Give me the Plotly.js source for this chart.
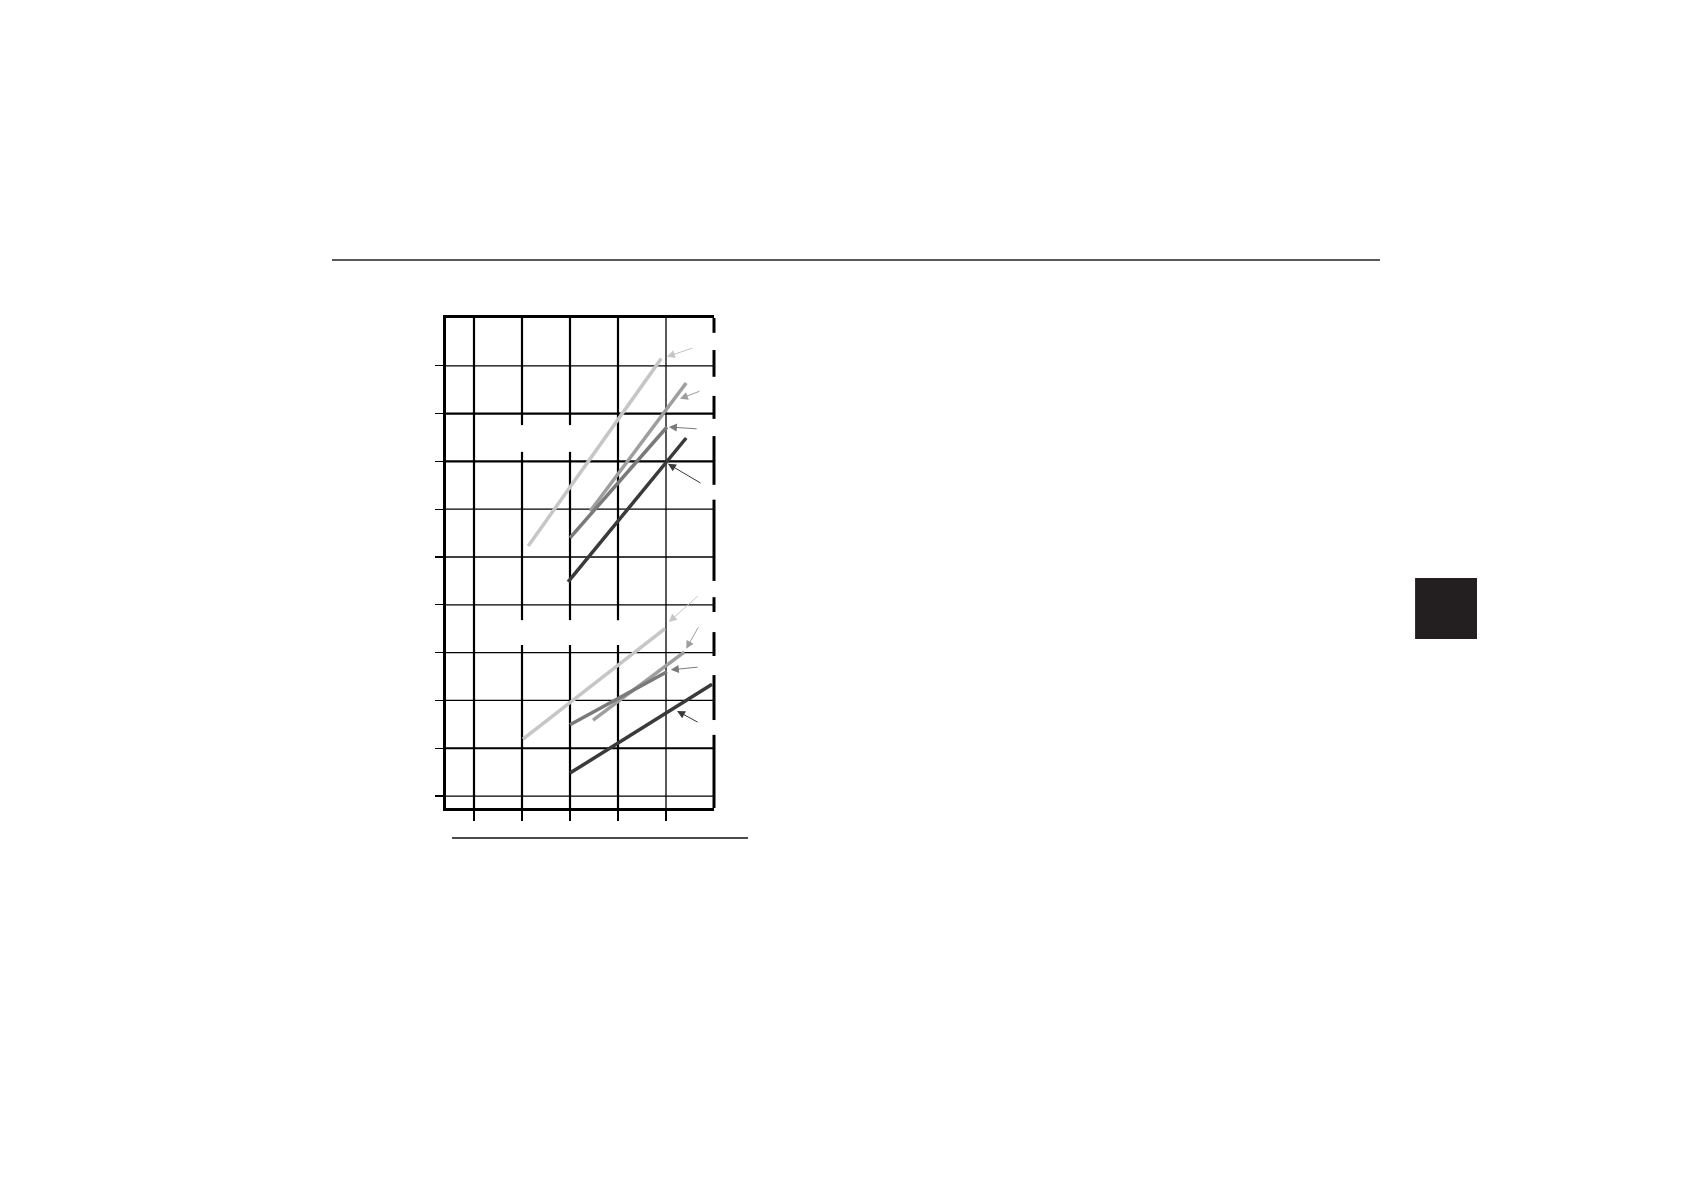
<!DOCTYPE html>
<html>
<head>
<meta charset="utf-8">
<script src="https://cdn.plot.ly/plotly-3.0.1.min.js"></script>
<style>
  html, body { margin: 0; padding: 0; background: #ffffff; }
  #chart { width: 1684px; height: 1190px; }
</style>
</head>
<body>
<div id="chart"></div>
<script>
// each line is drawn from its start point to its end point
const lineColors = ['#c6c6c6', '#9e9e9e', '#7a7a7a', '#3a3a3a']

// upper group
const upperX = [[2.13, 4.90], [3.42, 5.42], [3.00, 5.02], [2.96, 5.42]]
const upperY = [[6.23, 10.15], [6.96, 9.64], [6.40, 8.72], [5.48, 8.49]]

// lower group
const lowerX = [[2.02, 4.98], [3.48, 5.38], [3.00, 5.02], [3.00, 5.96]]
const lowerY = [[2.19, 4.50], [2.59, 4.01], [2.49, 3.60], [1.48, 3.34]]

// pointer arrows: head then tail, per line
const upperArrowHead = [[5.02, 10.19], [5.29, 9.31], [5.06, 8.72], [5.04, 7.95]]
const upperArrowTail = [[5.58, 10.38], [5.73, 9.48], [5.67, 8.68], [5.75, 7.53]]
const lowerArrowHead = [[5.06, 4.64], [5.42, 4.08], [5.10, 3.64], [5.23, 2.78]]
const lowerArrowTail = [[5.69, 5.21], [5.69, 4.56], [5.69, 3.70], [5.69, 2.53]]

const xTicks = [1, 2, 3, 4, 5]
const yTicks = [1, 2, 3, 4, 5, 6, 7, 8, 9, 10]

const xMin = 0.4167, xMax = 6
const yMin = 0.75, yMax = 11

const traces = []
function addGroup(xs, ys) {
  xs.forEach((x, i) => {
    traces.push({
      x: x,
      y: ys[i],
      type: 'scatter',
      mode: 'lines',
      line: { color: lineColors[i], width: 3.5 },
      showlegend: false,
      hoverinfo: 'skip'
    })
  })
}
addGroup(upperX, upperY)
addGroup(lowerX, lowerY)

const annotations = []
function addArrows(heads, tails) {
  heads.forEach((h, i) => {
    annotations.push({
      x: h[0], y: h[1], xref: 'x', yref: 'y',
      ax: tails[i][0], ay: tails[i][1], axref: 'x', ayref: 'y',
      text: '', showarrow: true,
      arrowhead: 2, arrowsize: 1.6, arrowwidth: 1,
      arrowcolor: lineColors[i]
    })
  })
}
addArrows(upperArrowHead, upperArrowTail)
addArrows(lowerArrowHead, lowerArrowTail)

// grid, drawn as segments because some lines are broken
const shapes = []
function seg(x0, y0, x1, y1, w, xref) {
  shapes.push({
    type: 'line', xref: xref || 'x', yref: 'y',
    x0: x0, y0: y0, x1: x1, y1: y1,
    line: { color: '#000000', width: w },
    layer: 'below'
  })
}

const thickRows = [2, 8, 9]
yTicks.forEach(v => seg(xMin, v, xMax, v, thickRows.includes(v) ? 2.2 : 1.3))

// vertical lines with their white breaks
const upperBreak = [8.20, 8.76]
const lowerBreak = [4.16, 4.68]
xTicks.forEach(v => {
  const w = v < 5 ? 2.2 : 1.3
  const breaks = []
  if (v === 2 || v === 3 || v === 4) breaks.push(lowerBreak)
  if (v === 2 || v === 3) breaks.push(upperBreak)
  let start = yMin
  breaks.forEach(b => {
    seg(v, start, v, b[0], w)
    start = b[1]
  })
  seg(v, start, v, yMax, w)
})

// right border, broken where labels once stood (paper x so it is not clipped)
const rightBorder = [[11.0, 10.69], [10.33, 9.77], [9.37, 8.89], [8.53, 7.51],
  [7.20, 5.50], [5.16, 4.85], [4.43, 3.93], [3.53, 2.59], [2.28, 0.75]]
rightBorder.forEach(s => seg(1, s[0], 1, s[1], 3, 'paper'))

// page rules and the tab block
shapes.push({
  type: 'line', xref: 'paper', yref: 'paper',
  x0: -0.4254, x1: 3.485, y0: 1.1184, y1: 1.1184,
  line: { color: '#222222', width: 1.3 }
})
shapes.push({
  type: 'line', xref: 'paper', yref: 'paper',
  x0: 0.0224, x1: 1.1269, y0: -0.0612, y1: -0.0612,
  line: { color: '#111111', width: 1.3 }
})
shapes.push({
  type: 'rect', xref: 'paper', yref: 'paper',
  x0: 3.616, x1: 3.847, y0: 0.3449, y1: 0.4694,
  line: { width: 0 }, fillcolor: '#231f20'
})

const layout = {
  width: 1684,
  height: 1190,
  margin: { l: 446, r: 970, t: 318, b: 382 },
  paper_bgcolor: '#ffffff',
  plot_bgcolor: '#ffffff',
  showlegend: false,
  xaxis: {
    range: [xMin, xMax],
    tickvals: xTicks,
    showticklabels: false,
    ticks: 'outside',
    ticklen: 10,
    tickwidth: 2,
    tickcolor: '#000000',
    showgrid: false,
    zeroline: false,
    showline: true,
    linecolor: '#000000',
    linewidth: 3,
    mirror: true,
    fixedrange: true
  },
  yaxis: {
    range: [yMin, yMax],
    tickvals: yTicks,
    showticklabels: false,
    ticks: 'outside',
    ticklen: 8,
    tickwidth: 1.3,
    tickcolor: '#000000',
    showgrid: false,
    zeroline: false,
    showline: true,
    linecolor: '#000000',
    linewidth: 3,
    fixedrange: true
  },
  shapes: shapes,
  annotations: annotations
}

Plotly.newPlot('chart', traces, layout, { displayModeBar: false, staticPlot: true })
</script>
</body>
</html>
